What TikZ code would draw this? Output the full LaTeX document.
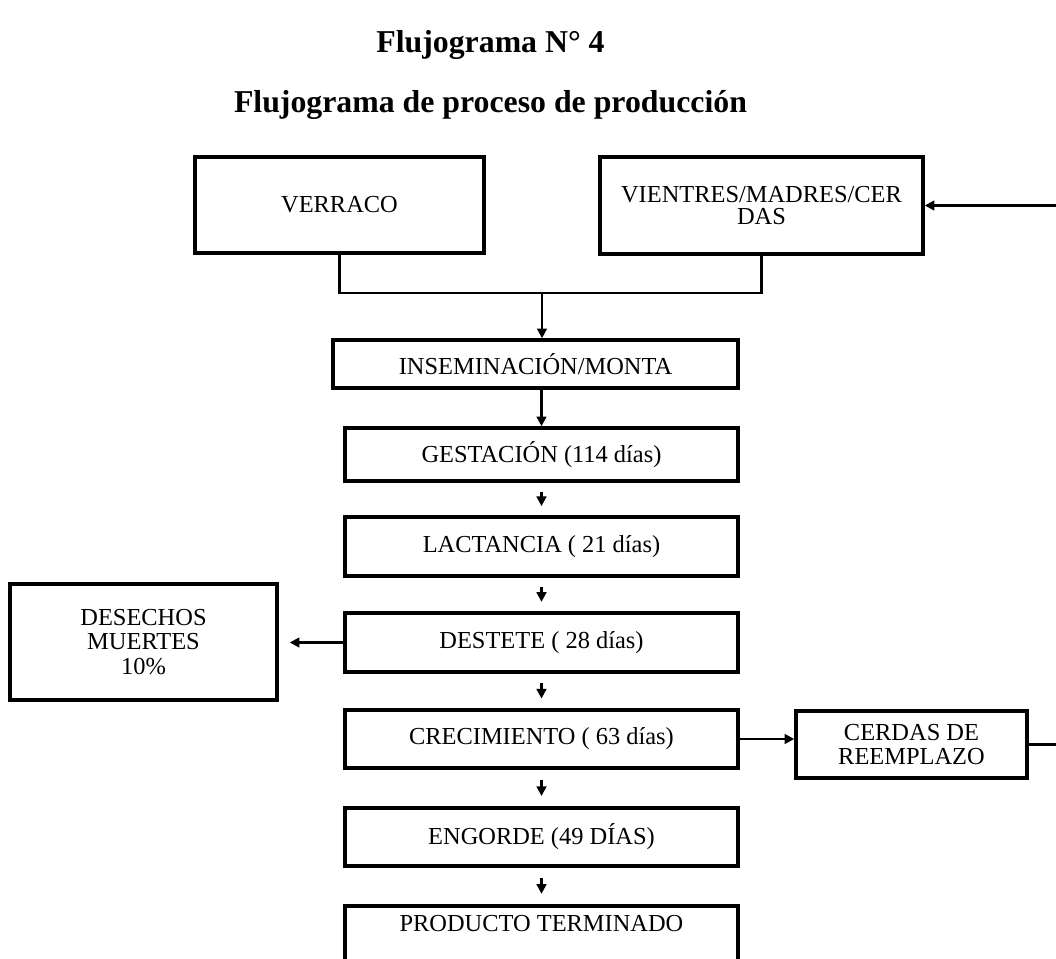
\documentclass[tikz,border=0pt]{standalone}
\usepackage{fontspec}
\setmainfont{Liberation Serif}
\usetikzlibrary{arrows.meta,calc}
\begin{document}
\begin{tikzpicture}[x=0.02cm,y=-0.02cm,
  stagebox/.style={draw, line width=2pt, inner sep=0pt, align=center,
    font=\fontsize{13.9}{14}\selectfont},
  link/.style={line width=1.7pt},
  arr/.style={link, -{Triangle[length=5.5pt,width=5.5pt]}},
  heading/.style={font=\bfseries\fontsize{18.1}{20}\selectfont, anchor=base}]
\useasboundingbox (0,0) rectangle (1056,959);
\clip (0,0) rectangle (1056,959);

% headings
\node[heading] (t1) at (490.5,53) {Flujograma N° 4};
\node[heading] (t2) at (490.5,113) {Flujograma de proceso de producción};

% stages
\node[stagebox, minimum width=5.78cm, minimum height=1.92cm] (verraco) at (339.5,205) {VERRACO};
\node[stagebox, minimum width=6.46cm, minimum height=1.94cm,
      font=\fontsize{13.9}{12.6}\selectfont] (vientres) at (761.5,205.5) {VIENTRES/MADRES/CER\\DAS};
\node[stagebox, minimum width=8.1cm, minimum height=0.96cm] (insem) at (535.5,364) {INSEMINACIÓN/MONTA};
\node[stagebox, minimum width=7.86cm, minimum height=1.06cm] (gest) at (541.5,454.5) {GESTACIÓN (114 días)};
\node[stagebox, minimum width=7.86cm, minimum height=1.18cm] (lact) at (541.5,546.5) {LACTANCIA ( 21 días)};
\node[stagebox, minimum width=7.86cm, minimum height=1.18cm] (dest) at (541.5,642.5) {DESTETE ( 28 días)};
\node[stagebox, minimum width=7.86cm, minimum height=1.16cm] (crec) at (541.5,739) {CRECIMIENTO ( 63 días)};
\node[stagebox, minimum width=7.86cm, minimum height=1.16cm] (eng) at (541.5,837) {ENGORDE (49 DÍAS)};
\node[stagebox, minimum width=7.86cm, anchor=north, inner ysep=0pt,
      text height=14.7pt, text depth=22.7pt] (prod) at (541.5,904) {PRODUCTO TERMINADO};
\node[stagebox, minimum width=5.34cm, minimum height=2.32cm] (desechos) at (143.5,642) {DESECHOS\\MUERTES\\10\%};
\node[stagebox, minimum width=4.62cm, minimum height=1.34cm] (cerdas) at (911.5,744.5) {CERDAS DE\\REEMPLAZO};

% connectors
\coordinate (join) at (542,293);
\coordinate (ret) at (1075,0);
\draw[link] (verraco.south) |- (join);
\draw[link] (vientres.south) |- (join);
\draw[arr] (join) -- (join |- insem.north);
\draw[arr] (gest.north |- insem.south) -- (gest.north);
\foreach \a/\b in {gest/lact, lact/dest, dest/crec, crec/eng, eng/prod}
  \draw[arr] ($(\a.south)!0.28!(\b.north)$) -- ($(\a.south)!0.72!(\b.north)$);
\draw[arr, shorten >=0.22cm] (dest.west) -- (dest.west -| desechos.east);
\draw[arr] (crec.east) -- (crec.east -| cerdas.west);
\draw[arr] (cerdas.east) -- (cerdas.east -| ret) -- (ret |- vientres.east) -- (vientres.east);
\end{tikzpicture}
\end{document}
